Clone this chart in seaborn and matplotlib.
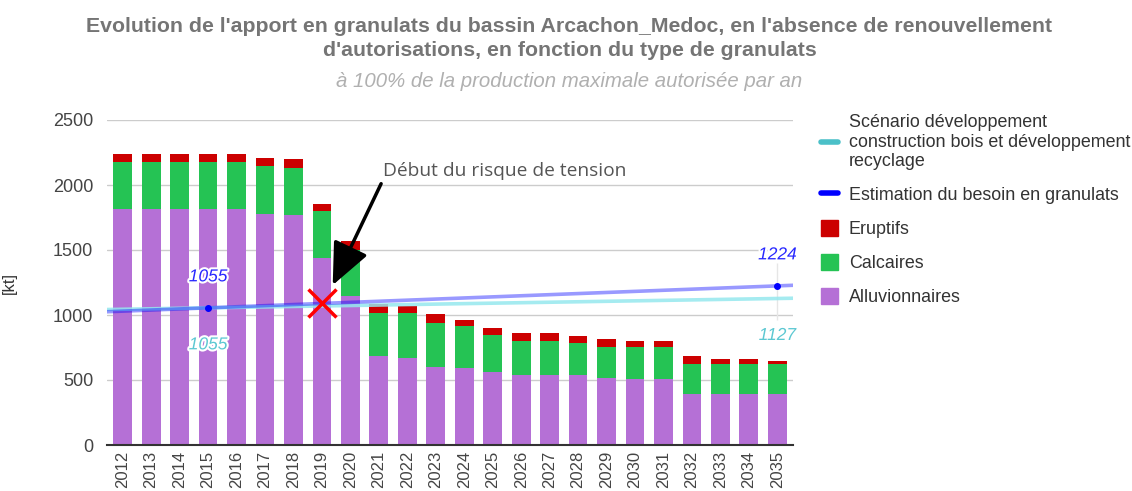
import numpy as np
import pandas as pd
import matplotlib
matplotlib.use('Agg')
import matplotlib.pyplot as plt
import matplotlib.patheffects as pe
from matplotlib.lines import Line2D
from matplotlib.patches import Patch
import seaborn as sns

##### data #####
years = list(range(2012, 2036))
alluvionnaires = [1813, 1813, 1813, 1813, 1813, 1780, 1767, 1436, 1149, 685, 672, 603,
                  595, 562, 536, 536, 536, 515, 505, 505, 395, 395, 395, 395]
calcaires = [364, 364, 364, 364, 364, 363, 364, 364, 351, 330, 343, 335,
             320, 287, 267, 267, 246, 241, 251, 251, 231, 231, 231, 231]
eruptifs = [61, 61, 61, 61, 61, 67, 66, 56, 69, 67, 52, 67,
            44, 54, 56, 56, 54, 57, 47, 47, 56, 33, 33, 23]
# demand curves (straight lines through the labelled points)
besoin_years = [2015, 2035]
besoin = [1055, 1224]
scenario_years = [2015, 2035]
scenario = [1055, 1127]
tension_year = 2019
tension_value = 1095

c_allu = '#b570d6'
c_calc = '#25c354'
c_erup = '#cc0000'
c_blue = '#0000ff'
c_cyan = '#4bc0c8'
grey = '#757575'

df = pd.DataFrame({'year': [str(y) for y in years],
                   'A': alluvionnaires, 'C': calcaires, 'E': eruptifs})
df['AC'] = df['A'] + df['C']
df['ACE'] = df['AC'] + df['E']

sns.set_style('white')
plt.rcParams['font.family'] = ['Liberation Sans', 'DejaVu Sans']

fig = plt.figure(figsize=(11.32, 4.91), dpi=100)
ax = fig.add_axes([107 / 1132, 1 - 445 / 491, 686 / 1132, 325 / 491])

# stacked bars: draw cumulative heights, tallest first
for col, c in [('ACE', c_erup), ('AC', c_calc), ('A', c_allu)]:
    sns.barplot(data=df, x='year', y=col, color=c, width=0.66, saturation=1,
                edgecolor='none', ax=ax)

def idx(y):
    return years.index(y)

# lines, extended across the full plot width
bx = [idx(y) for y in besoin_years]
sx = [idx(y) for y in scenario_years]
ax.axline((sx[0], scenario[0]), (sx[1], scenario[1]), color='#95e8ee', lw=2.6, alpha=0.85, zorder=4)
ax.axline((bx[0], besoin[0]), (bx[1], besoin[1]), color=c_blue, lw=2.6, alpha=0.4, zorder=5)
ax.plot(bx, besoin, 'o', color=c_blue, ms=4, zorder=6)
ax.vlines(bx[-1], 960, 1400, color='#e6e6e6', lw=1, zorder=3)

halo = [pe.withStroke(linewidth=3, foreground='white')]
for x, v in zip(bx, besoin):
    ax.annotate(str(v), (x, v), xytext=(0, 31), textcoords='offset pixels', ha='center',
                va='center', fontsize=12.5, style='italic', color='#2828ff', path_effects=halo, zorder=7)
for x, v in zip(sx, scenario):
    ax.annotate(str(v), (x, v), xytext=(0, -37), textcoords='offset pixels', ha='center',
                va='center', fontsize=12.5, style='italic', color='#5cc8d2', path_effects=halo, zorder=7)

# tension marker + arrow
tx = idx(tension_year)
ax.plot([tx], [tension_value], marker='x', color='#ff0000', ms=20, mew=2.5, zorder=8)
ax.annotate('', xy=(tx + 0.38, 1230), xytext=(tx + 2.08, 2010),
            arrowprops=dict(arrowstyle='-|>,head_length=2.6,head_width=1.15', color='black',
                            lw=2.5, shrinkA=0, shrinkB=0), zorder=9)
ax.text(tx + 2.15, 2108, 'Début du risque de tension', fontsize=13.8, color='#555555',
        family=['Open Sans', 'DejaVu Sans'], va='center', ha='left', zorder=9)

ax.set_xlim(-0.55, len(years) - 0.45)
ax.set_ylim(0, 2500)
ax.set_yticks([0, 500, 1000, 1500, 2000, 2500])
ax.yaxis.grid(True, color='#cccccc', lw=1)
ax.set_axisbelow(True)
for s in ['top', 'right', 'left']:
    ax.spines[s].set_visible(False)
ax.spines['bottom'].set_color('#333333')
ax.spines['bottom'].set_linewidth(1.5)
ax.tick_params(axis='x', rotation=90, labelsize=12, colors='#444444', length=0, pad=4)
ax.tick_params(axis='y', labelsize=13, colors='#444444', length=0, pad=10)
ax.set_xlabel('')
ax.set_ylabel('[kt]', fontsize=12, color='#333333', labelpad=26)

fig.text(0.503, 1 - 27 / 491, "Evolution de l'apport en granulats du bassin Arcachon_Medoc, en l'absence de renouvellement",
         ha='center', va='center', fontsize=15.3, weight='bold', color=grey)
fig.text(0.503, 1 - 50 / 491, "d'autorisations, en fonction du type de granulats",
         ha='center', va='center', fontsize=15.3, weight='bold', color=grey)
fig.text(0.503, 1 - 81 / 491, 'à 100% de la production maximale autorisée par an',
         ha='center', va='center', fontsize=14.7, style='italic', color='#b0b0b0')

handles = [Line2D([], [], color=c_cyan, lw=4),
           Line2D([], [], color=c_blue, lw=4),
           Patch(color=c_erup), Patch(color=c_calc), Patch(color=c_allu)]
labels = ['Scénario développement\nconstruction bois et développement\nrecyclage',
          'Estimation du besoin en granulats', 'Eruptifs', 'Calcaires', 'Alluvionnaires']
fig.legend(handles, labels, loc='upper left', bbox_to_anchor=(805 / 1132, 1 - 98 / 491),
           frameon=False, fontsize=12.9, labelcolor='#333333', handlelength=0.95,
           handleheight=1.0, handletextpad=0.6, labelspacing=0.88)

fig.savefig('out.png', dpi=100)
